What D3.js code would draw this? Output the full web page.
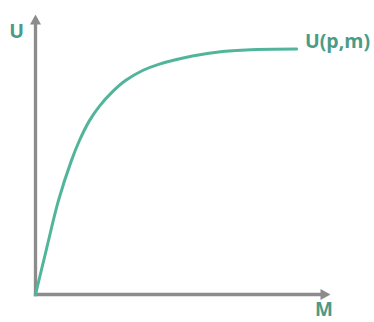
<!DOCTYPE html>
<html><head><meta charset="utf-8">
<script src="https://cdn.jsdelivr.net/npm/d3@7"></script>
<style>html,body{margin:0;padding:0;background:#fff;}svg{display:block;}</style>
</head><body>
<script>
const mValues = [0, 3.6, 7.8, 12.2, 14.9, 18.3, 21.7, 25.8, 30.5, 36.3, 42.0, 53.2, 63.4, 74.9, 88.5];
const uValues = [0, 15.7, 33.6, 47.9, 55.0, 62.1, 67.3, 72.1, 76.4, 80.0, 82.3, 85.2, 86.8, 87.5, 87.7];
const xLabel = "M";
const yLabel = "U";
const curveLabel = "U(p,m)";

const W = 374, H = 322;
const svg = d3.select("body").append("svg").attr("width", W).attr("height", H);
const x = d3.scaleLinear().domain([0, 100]).range([35.5, 330.5]);
const y = d3.scaleLinear().domain([0, 100]).range([294.5, 14.5]);

const axisColor = "#8c8c8c", curveColor = "#52b59b", textColor = "#4a9b87";
const sw = 3.3, headLen = 10, headHalf = 5.5;

svg.append("line").attr("x1", x(0) - sw/2).attr("y1", y(0)).attr("x2", x(100) - headLen + 1).attr("y2", y(0))
  .attr("stroke", axisColor).attr("stroke-width", sw);
svg.append("line").attr("x1", x(0)).attr("y1", y(0) + sw/2).attr("x2", x(0)).attr("y2", y(100) + headLen - 1)
  .attr("stroke", axisColor).attr("stroke-width", sw);
svg.append("path")
  .attr("d", `M${x(100)},${y(0)}L${x(100)-headLen},${y(0)-headHalf}L${x(100)-headLen},${y(0)+headHalf}Z`)
  .attr("fill", axisColor);
svg.append("path")
  .attr("d", `M${x(0)},${y(100)}L${x(0)-headHalf},${y(100)+headLen}L${x(0)+headHalf},${y(100)+headLen}Z`)
  .attr("fill", axisColor);

const data = mValues.map((m,i)=>[m, uValues[i]]);
svg.append("path").datum(data)
  .attr("d", d3.line().x(d=>x(d[0])).y(d=>y(d[1])).curve(d3.curveCatmullRom.alpha(0.5)))
  .attr("fill","none").attr("stroke", curveColor).attr("stroke-width", 3).attr("stroke-linecap","round");

const font = "'Open Sans', Lato, sans-serif";
svg.append("text").attr("x", 16.5).attr("y", 37.5).attr("text-anchor","middle")
  .attr("font-family", font).attr("font-weight","bold").attr("font-size", 19.5)
  .attr("fill", textColor).text(yLabel);
svg.append("text").attr("x", 324).attr("y", 316).attr("text-anchor","middle")
  .attr("font-family", font).attr("font-weight","bold").attr("font-size", 19)
  .attr("fill", textColor).text(xLabel);
svg.append("text").attr("x", 305).attr("y", 47.5)
  .attr("font-family", font).attr("font-weight","bold").attr("font-size", 19.5)
  .attr("fill", textColor).text(curveLabel);
</script>
</body></html>
